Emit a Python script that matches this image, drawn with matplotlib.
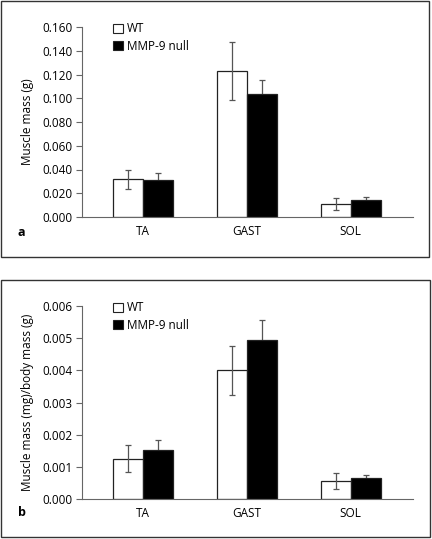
import matplotlib
matplotlib.use("Agg")
import matplotlib.pyplot as plt
from matplotlib.patches import Rectangle
import numpy as np

categories = ["TA", "GAST", "SOL"]
series_names = ["WT", "MMP-9 null"]

# Panel a: muscle mass (g)
a_wt = [0.032, 0.123, 0.011]
a_wt_err = [0.008, 0.0245, 0.0054]
a_null = [0.031, 0.104, 0.014]
a_null_err = [0.006, 0.011, 0.0025]
a_ticks = [0.000, 0.020, 0.040, 0.060, 0.080, 0.100, 0.120, 0.140, 0.160]
a_ticklabels = ["0.000", "0.020", "0.040", "0.060", "0.080", "0.100", "0.120", "0.140", "0.160"]

# Panel b: muscle mass (mg)/body mass (g)
b_wt = [0.00125, 0.0040, 0.00056]
b_wt_err = [0.00042, 0.00077, 0.00024]
b_null = [0.00152, 0.00495, 0.00064]
b_null_err = [0.00030, 0.00062, 0.00012]
b_ticks = [0.000, 0.001, 0.002, 0.003, 0.004, 0.005, 0.006]
b_ticklabels = ["0.000", "0.001", "0.002", "0.003", "0.004", "0.005", "0.006"]

plt.rcParams['font.family'] = ['Open Sans', 'DejaVu Sans']
FS = 8.5

W, H = 432, 539
fig = plt.figure(figsize=(W / 100, H / 100), dpi=100)

def px_rect(x0, y0, x1, y1):
    return [x0 / W, 1 - y1 / H, (x1 - x0) / W, (y1 - y0) / H]

for (x0, y0, x1, y1) in [(1, 1, 429, 257), (1, 280, 430, 537)]:
    r = Rectangle((x0 / W, 1 - y1 / H), (x1 - x0) / W, (y1 - y0) / H,
                  transform=fig.transFigure, fill=False, edgecolor='#333333', lw=1.0)
    fig.add_artist(r)

def panel(rect, wt, wt_err, nl, nl_err, ticks, ticklabels, ylabel, letter, letter_y):
    ax = fig.add_axes(px_rect(*rect))
    x = np.arange(len(categories))
    w = 0.29
    ekw = dict(fmt='none', ecolor='#555555', elinewidth=0.9, capsize=2.5, capthick=0.9)
    ax.bar(x - w / 2, wt, w, color='white', edgecolor='#222222',
           linewidth=0.9, label=series_names[0], zorder=2)
    ax.errorbar(x - w / 2, wt, yerr=wt_err, zorder=3, **ekw)
    ax.errorbar(x + w / 2, nl, yerr=nl_err, zorder=2, **ekw)
    ax.bar(x + w / 2, nl, w, color='black', edgecolor='#222222',
           linewidth=0.9, label=series_names[1], zorder=4)
    ax.set_xlim(-0.59, 2.6)
    ax.set_ylim(ticks[0], ticks[-1])
    ax.set_yticks(ticks)
    ax.set_yticklabels(ticklabels, fontsize=FS)
    ax.set_xticks(x)
    ax.set_xticklabels(categories, fontsize=FS)
    ax.tick_params(axis='x', length=0, pad=6)
    ax.tick_params(axis='y', length=4, width=0.8, color='#666666', pad=3)
    for s in ['top', 'right']:
        ax.spines[s].set_visible(False)
    for s in ['left', 'bottom']:
        ax.spines[s].set_color('#666666')
        ax.spines[s].set_linewidth(0.8)
        ax.spines[s].set_zorder(5)
    ax.set_ylabel(ylabel, fontsize=FS, labelpad=6)
    leg = ax.legend(loc='upper left', bbox_to_anchor=(0.094, 1.025), frameon=False,
                    fontsize=FS, handlelength=0.8, handleheight=0.8,
                    handletextpad=0.4, labelspacing=0.4, borderpad=0, borderaxespad=0)
    for h in leg.legend_handles:
        h.set_edgecolor('#222222')
        h.set_linewidth(0.8)
    fig.text(18 / W, 1 - letter_y / H, letter, fontsize=9, fontweight='bold',
             ha='left', va='center')
    return ax

panel((82, 27, 413, 217), a_wt, a_wt_err, a_null, a_null_err, a_ticks, a_ticklabels,
      "Muscle mass (g)", "a", 232)
panel((82, 306, 413, 499), b_wt, b_wt_err, b_null, b_null_err, b_ticks, b_ticklabels,
      "Muscle mass (mg)/body mass (g)", "b", 513)

fig.savefig("out.png", dpi=100)
